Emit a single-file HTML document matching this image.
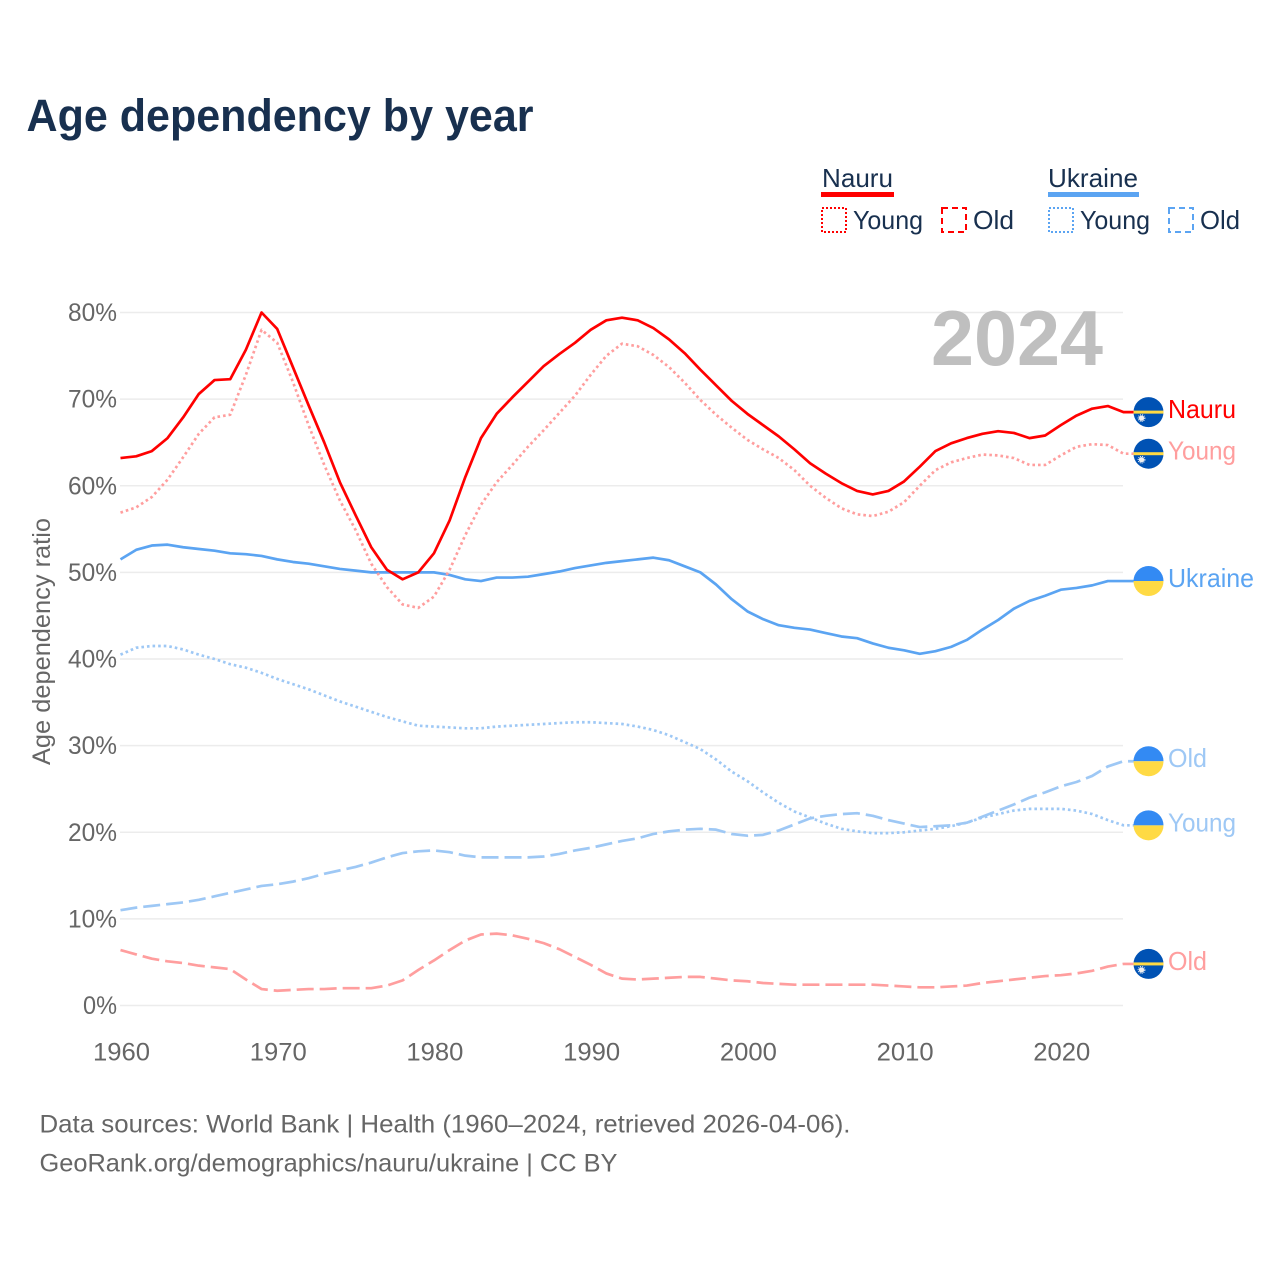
<!DOCTYPE html>
<html lang="en">
<head>
<meta charset="utf-8">
<title>Age dependency by year</title>
<style>
html,body{margin:0;padding:0;background:#fff;width:1280px;height:1280px;overflow:hidden}
svg{display:block;font-family:"Liberation Sans",Arial,sans-serif}
</style>
</head>
<body>
<svg id="chart" xmlns="http://www.w3.org/2000/svg" width="1280" height="1280" viewBox="0 0 1280 1280">
  <rect width="1280" height="1280" fill="#fff"/>
  <text x="26.5" y="131" font-size="45" font-weight="700" fill="#18304f" textLength="507" lengthAdjust="spacingAndGlyphs">Age dependency by year</text>

  <g font-size="26" fill="#18304f">
    <text x="822" y="187" textLength="71" lengthAdjust="spacingAndGlyphs">Nauru</text>
    <rect x="821" y="192" width="73" height="5" fill="#ff0000"/>
    <rect x="822" y="208" width="24" height="24" fill="none" stroke="#ff0000" stroke-width="2" stroke-dasharray="2 2"/>
    <text x="853" y="229" textLength="70" lengthAdjust="spacingAndGlyphs">Young</text>
    <rect x="942" y="208" width="24" height="24" fill="none" stroke="#ff0000" stroke-width="2" stroke-dasharray="6 4"/>
    <text x="973" y="229" textLength="41" lengthAdjust="spacingAndGlyphs">Old</text>
    <text x="1048" y="187" textLength="90" lengthAdjust="spacingAndGlyphs">Ukraine</text>
    <rect x="1048" y="192" width="91" height="5" fill="#5ba4f2"/>
    <rect x="1049" y="208" width="24" height="24" fill="none" stroke="#5ba4f2" stroke-width="2" stroke-dasharray="2 2"/>
    <text x="1080" y="229" textLength="70" lengthAdjust="spacingAndGlyphs">Young</text>
    <rect x="1169" y="208" width="24" height="24" fill="none" stroke="#5ba4f2" stroke-width="2" stroke-dasharray="6 4"/>
    <text x="1200" y="229" textLength="40" lengthAdjust="spacingAndGlyphs">Old</text>
  </g>

  <g id="grid"></g>
  <text x="931" y="365" font-size="78" font-weight="700" fill="#bfbfbf" textLength="172" lengthAdjust="spacingAndGlyphs">2024</text>
  <g id="yticks" font-size="25" fill="#666"></g>
  <g id="xticks" font-size="25" fill="#666"></g>
  <text transform="translate(50,765) rotate(-90)" font-size="25" fill="#666" textLength="247" lengthAdjust="spacingAndGlyphs">Age dependency ratio</text>
  <g id="series"></g>
  <g id="ends"></g>

  <g font-size="25" fill="#666">
    <text x="39.5" y="1132.5" textLength="811" lengthAdjust="spacingAndGlyphs">Data sources: World Bank | Health (1960–2024, retrieved 2026-04-06).</text>
    <text x="39.5" y="1171.5" textLength="578" lengthAdjust="spacingAndGlyphs">GeoRank.org/demographics/nauru/ukraine | CC BY</text>
  </g>
</svg>
<script>
const startYear = 1960;
const yTicks = [0, 10, 20, 30, 40, 50, 60, 70, 80];
const xTicks = [1960, 1970, 1980, 1990, 2000, 2010, 2020];
const nauruTotal = [63.2,63.4,64.0,65.5,67.9,70.6,72.2,72.3,75.7,80.0,78.1,73.7,69.3,65.0,60.4,56.6,52.9,50.3,49.2,50.0,52.2,56.0,61.0,65.5,68.3,70.2,72.0,73.8,75.2,76.5,78.0,79.1,79.4,79.1,78.2,76.9,75.3,73.4,71.6,69.8,68.3,67.0,65.7,64.2,62.6,61.4,60.3,59.4,59.0,59.4,60.5,62.2,64.0,64.9,65.5,66.0,66.3,66.1,65.5,65.8,67.0,68.1,68.9,69.2,68.5];
const nauruYoung = [56.9,57.5,58.7,60.7,63.3,66.0,67.9,68.2,72.8,78.0,76.5,72.0,67.0,62.4,58.3,54.9,51.0,48.3,46.3,45.9,47.2,50.3,54.3,57.8,60.4,62.4,64.5,66.4,68.4,70.4,72.8,75.0,76.4,76.1,75.1,73.7,71.9,69.9,68.2,66.7,65.3,64.2,63.2,61.8,60.0,58.6,57.4,56.7,56.5,57.0,58.1,60.0,61.8,62.7,63.2,63.6,63.5,63.2,62.4,62.4,63.5,64.5,64.8,64.7,63.7];
const nauruOld = [6.4,5.9,5.4,5.1,4.9,4.6,4.4,4.2,3.0,1.9,1.7,1.8,1.9,1.9,2.0,2.0,2.0,2.3,2.9,4.1,5.2,6.4,7.5,8.2,8.3,8.1,7.7,7.2,6.5,5.6,4.7,3.7,3.1,3.0,3.1,3.2,3.3,3.3,3.1,2.9,2.8,2.6,2.5,2.4,2.4,2.4,2.4,2.4,2.4,2.3,2.2,2.1,2.1,2.2,2.3,2.6,2.8,3.0,3.2,3.4,3.5,3.7,4.0,4.5,4.8];
const ukraineTotal = [51.5,52.6,53.1,53.2,52.9,52.7,52.5,52.2,52.1,51.9,51.5,51.2,51.0,50.7,50.4,50.2,50.0,50.0,50.0,50.0,50.0,49.7,49.2,49.0,49.4,49.4,49.5,49.8,50.1,50.5,50.8,51.1,51.3,51.5,51.7,51.4,50.7,50.0,48.6,46.9,45.5,44.6,43.9,43.6,43.4,43.0,42.6,42.4,41.8,41.3,41.0,40.6,40.9,41.4,42.2,43.4,44.5,45.8,46.7,47.3,48.0,48.2,48.5,49.0,49.0];
const ukraineYoung = [40.5,41.3,41.5,41.5,41.1,40.5,40.0,39.4,39.0,38.4,37.7,37.1,36.5,35.8,35.1,34.5,33.9,33.3,32.8,32.3,32.2,32.1,32.0,32.0,32.2,32.3,32.4,32.5,32.6,32.7,32.7,32.6,32.5,32.2,31.8,31.2,30.4,29.6,28.4,27.0,25.9,24.6,23.4,22.4,21.7,21.0,20.4,20.1,19.9,19.9,20.0,20.2,20.4,20.7,21.1,21.7,22.1,22.5,22.7,22.7,22.7,22.5,22.1,21.4,20.8];
const ukraineOld = [11.0,11.3,11.5,11.7,11.9,12.2,12.6,13.0,13.4,13.8,14.0,14.3,14.7,15.2,15.6,16.0,16.5,17.1,17.6,17.8,17.9,17.7,17.3,17.1,17.1,17.1,17.1,17.2,17.5,17.9,18.2,18.6,19.0,19.3,19.8,20.1,20.3,20.4,20.3,19.8,19.6,19.7,20.2,20.9,21.6,21.9,22.1,22.2,21.9,21.4,21.0,20.6,20.7,20.8,21.1,21.8,22.5,23.2,24.0,24.6,25.3,25.8,26.5,27.6,28.2];

const NS = 'http://www.w3.org/2000/svg';
const xAxis = year => 120.5 + (year - startYear) * 15.672;
const yAxis = value => 1005.5 - value * 8.6625;
const make = (tag, parent) => parent.appendChild(document.createElementNS(NS, tag));

const grid = document.getElementById('grid');
const yGroup = document.getElementById('yticks');
yTicks.forEach(t => {
  const line = make('line', grid);
  
  
  line.setAttribute('x1', 120);
  line.setAttribute('x2', 1123);
  line.setAttribute('y1', yAxis(t));
  line.setAttribute('y2', yAxis(t));
  line.setAttribute('stroke', '#ececec');
  line.setAttribute('stroke-width', 1.5);
  const label = make('text', yGroup);
  
  
  const w = t === 0 ? 34 : 49;
  label.setAttribute('x', 117 - w);
  label.setAttribute('y', yAxis(t) + 8.5);
  label.setAttribute('textLength', w);
  label.setAttribute('lengthAdjust', 'spacingAndGlyphs');
  label.textContent = t + '%';
});

const xGroup = document.getElementById('xticks');
xTicks.forEach(t => {
  const label = make('text', xGroup);
  
  
  label.setAttribute('x', xAxis(t) - 27.5);
  label.setAttribute('y', 1060.5);
  label.setAttribute('textLength', 57);
  label.setAttribute('lengthAdjust', 'spacingAndGlyphs');
  label.textContent = t;
});

const seriesGroup = document.getElementById('series');
const endsGroup = document.getElementById('ends');

function drawNauruFlag(parent, cy) {
  const disc = make('circle', parent);
  disc.setAttribute('cx', 1148.5);
  disc.setAttribute('cy', cy);
  disc.setAttribute('r', 15);
  disc.setAttribute('fill', '#0052b4');
  const band = make('rect', parent);
  band.setAttribute('x', 1133.5);
  band.setAttribute('y', cy - 1.5);
  band.setAttribute('width', 30);
  band.setAttribute('height', 3);
  band.setAttribute('fill', '#ffda44');
  const star = make('circle', parent);
  star.setAttribute('cx', 1141.5);
  star.setAttribute('cy', cy + 6);
  star.setAttribute('r', 2.6);
  star.setAttribute('fill', '#f0f0f0');
  const rays = make('circle', parent);
  rays.setAttribute('cx', 1141.5);
  rays.setAttribute('cy', cy + 6);
  rays.setAttribute('r', 3.3);
  rays.setAttribute('fill', 'none');
  rays.setAttribute('stroke', '#f0f0f0');
  rays.setAttribute('stroke-width', 1.2);
  rays.setAttribute('stroke-dasharray', '1 1');
}

function drawUkraineFlag(parent, cy) {
  const top = make('path', parent);
  top.setAttribute('d', `M1133.5 ${cy}a15 15 0 0 1 30 0z`);
  top.setAttribute('fill', '#338af3');
  const bottom = make('path', parent);
  bottom.setAttribute('d', `M1133.5 ${cy}a15 15 0 0 0 30 0z`);
  bottom.setAttribute('fill', '#ffda44');
}

function drawSeries(values, color, dash, width, text, textW, flag) {
  const path = make('path', seriesGroup);
  
  
  const pts = values.map((v, i) => xAxis(startYear + i).toFixed(2) + ' ' + yAxis(v).toFixed(2));
  const cy = yAxis(values[values.length - 1]);
  path.setAttribute('d', 'M' + pts.join('L') + 'L1134 ' + cy.toFixed(2));
  path.setAttribute('fill', 'none');
  path.setAttribute('stroke', color);
  path.setAttribute('stroke-width', width);
  path.setAttribute('stroke-linejoin', 'round');
  if (dash) path.setAttribute('stroke-dasharray', dash);

  const flagGroup = make('g', endsGroup);
  
  
  flag(flagGroup, cy);

  const label = make('text', endsGroup);
  
  
  label.setAttribute('x', 1168);
  label.setAttribute('y', cy + 6);
  label.setAttribute('font-size', 26);
  label.setAttribute('fill', color);
  label.setAttribute('textLength', textW);
  label.setAttribute('lengthAdjust', 'spacingAndGlyphs');
  label.textContent = text;
}

const DOT = '2.6 3';
const DASH = '17 6';
drawSeries(ukraineOld, '#9ec8f5', DASH, 2.7, 'Old', 39, drawUkraineFlag);
drawSeries(ukraineYoung, '#9ec8f5', DOT, 2.7, 'Young', 68, drawUkraineFlag);
drawSeries(ukraineTotal, '#5ba4f2', null, 2.7, 'Ukraine', 86, drawUkraineFlag);
drawSeries(nauruOld, '#ff9e9e', DASH, 2.7, 'Old', 39, drawNauruFlag);
drawSeries(nauruYoung, '#ff9e9e', DOT, 2.7, 'Young', 68, drawNauruFlag);
drawSeries(nauruTotal, '#ff0000', null, 2.7, 'Nauru', 68, drawNauruFlag);
</script>
</body>
</html>
